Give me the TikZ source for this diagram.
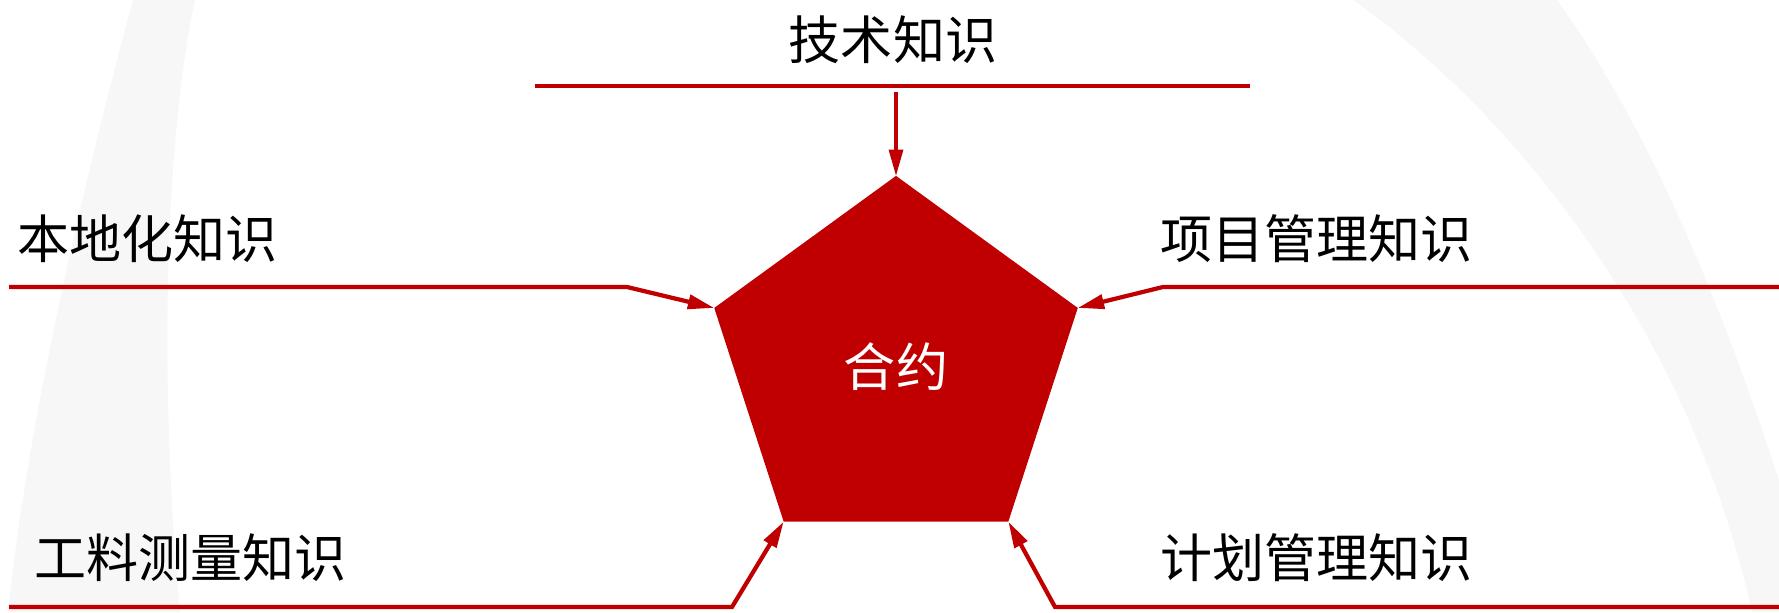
\documentclass[tikz,border=0pt]{standalone}
\usepackage{fontspec}
\setmainfont{Noto Sans CJK SC}
\usepackage{tikz}
\usetikzlibrary{shapes.geometric,arrows.meta}
\definecolor{deepred}{RGB}{192,0,0}
\definecolor{swoosh}{RGB}{247,247,247}

\begin{document}
\begin{tikzpicture}[x=0.01cm,y=-0.01cm,
  know/.style={font=\fontsize{14.8pt}{16pt}\selectfont, inner sep=0pt},
  link/.style={deepred, line width=1.2pt, -{Triangle[length=7.5pt,width=4pt]}}]
\useasboundingbox (0,0) rectangle (1779,612);
\fill [swoosh] (133,0) .. controls (95,140) and (30,400) .. (8,612) -- (180,612) .. controls (160,400) and (163,150) .. (195,0) -- cycle;
\fill [swoosh] (1353,0) .. controls (1510,110) and (1690,330) .. (1752,612) -- (1779,612) -- (1779,480) .. controls (1720,300) and (1650,130) .. (1557,0) -- cycle;
\node [regular polygon, regular polygon sides=5, minimum size=3.82cm, inner sep=0pt, outer sep=0pt, fill=deepred, text=white, know] (contract) at (896,367) {合约};
\node [know] (tech) at (893,40) {技术知识};
\node [know, anchor=west] (local) at (17,239) {本地化知识};
\node [know, anchor=west] (pm) at (1160,239) {项目管理知识};
\node [know, anchor=west] (qs) at (34,558) {工料测量知识};
\node [know, anchor=west] (plan) at (1160,558) {计划管理知识};
\coordinate (techL) at (535,86);
\coordinate (techR) at (1250,86);
\coordinate (techS) at (896,92);
\coordinate (localS) at (9,287);
\coordinate (localB) at (627,287);
\coordinate (pmS) at (1779,287);
\coordinate (pmB) at (1163,287);
\coordinate (qsS) at (9,607);
\coordinate (qsB) at (732,607);
\coordinate (planS) at (1779,607);
\coordinate (planB) at (1055,607);
\draw [deepred, line width=1.2pt] (techL) -- (techR);
\draw [link, line width=0.9pt] (techS) -- (contract.corner 1);
\draw [link] (localS) -- (localB) -- (contract.corner 2);
\draw [link] (pmS) -- (pmB) -- (contract.corner 5);
\draw [link] (qsS) -- (qsB) -- (contract.corner 3);
\draw [link] (planS) -- (planB) -- (contract.corner 4);
\end{tikzpicture}
\end{document}
